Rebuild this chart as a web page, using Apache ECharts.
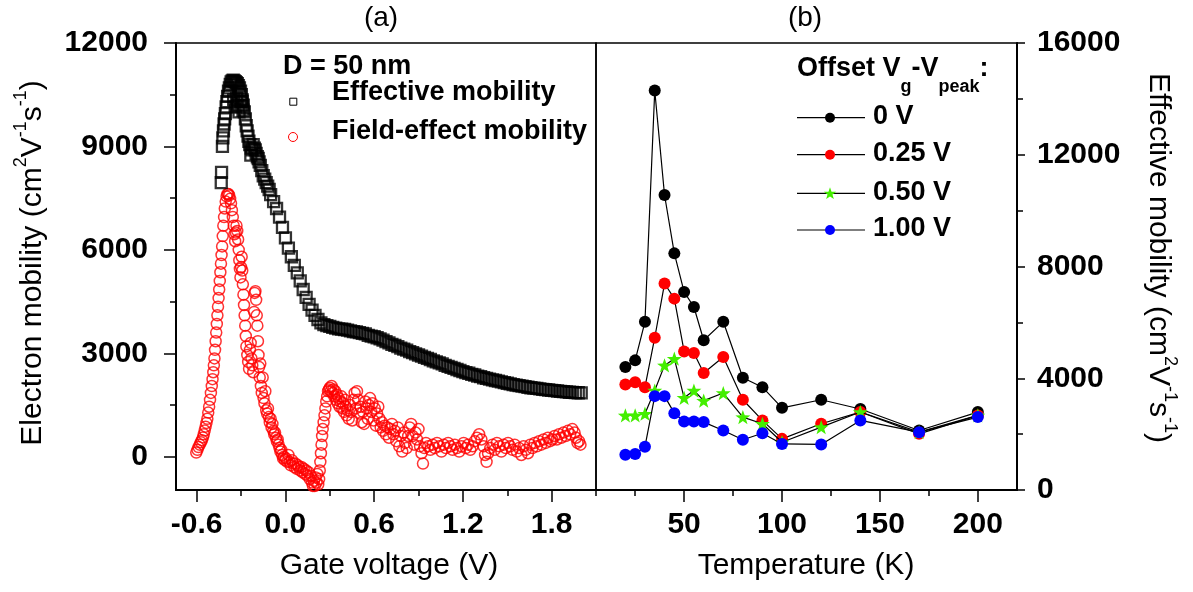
<!DOCTYPE html>
<html><head><meta charset="utf-8">
<script src="https://cdn.jsdelivr.net/npm/echarts@6/dist/echarts.min.js"></script>
<style>html,body{margin:0;padding:0;background:#fff}#c{width:1193px;height:592px}</style>
</head><body><div id="c"></div>
<script>
// ---------- Panel (a): gate-voltage dependence ----------
const effVg = [-0.434,-0.432,-0.426,-0.423,-0.419,-0.415,-0.411,-0.406,-0.401,-0.396,-0.391,-0.385,-0.379,-0.373,-0.367,-0.360,-0.353,-0.346,-0.339,-0.332,-0.325,-0.318,-0.311,-0.304,-0.298,
 -0.350,-0.340,-0.330,-0.322,-0.314,-0.306,-0.300,-0.293,-0.287,
 -0.292,-0.285,-0.278,-0.271,-0.265,-0.259,-0.253,-0.247,-0.241,-0.234,-0.231,-0.225,-0.218,-0.210,-0.204,-0.198,-0.190,-0.184,-0.178,-0.170,-0.160,-0.150,-0.140,-0.130,-0.120,-0.110,
 -0.10,-0.08,-0.06,-0.04,-0.02,0.00,0.02,0.04,0.06,0.08,0.10,0.12,0.14,0.16,0.18,0.20,0.22,0.24,0.26,0.28,0.30,0.32,0.34,0.36,0.38,0.40,0.42,0.44,0.46,0.48,0.50,0.52,0.54,0.56,0.58,0.60,0.62,0.64,0.66,0.68,0.70,0.72,0.74,0.76,0.78,0.80,0.82,0.84,0.86,0.88,0.90,0.92,0.94,0.96,0.98,1.00,1.02,1.04,1.06,1.08,1.10,1.12,1.14,1.16,1.18,1.20,1.22,1.24,1.26,1.28,1.30,1.32,1.34,1.36,1.38,1.40,1.42,1.44,1.46,1.48,1.50,1.52,1.54,1.56,1.58,1.60,1.62,1.64,1.66,1.68,1.70,1.72,1.74,1.76,1.78,1.80,1.82,1.84,1.86,1.88,1.90,1.92,1.94,1.96,1.98,2.00];
const effMob = [7950,8250,9000,9250,9450,9650,9800,9950,10150,10300,10450,10600,10700,10800,10870,10900,10920,10900,10880,10850,10820,10760,10700,10600,10500,
 10350,10150,10400,10200,10000,10300,10150,10300,10050,
 10350,10200,10000,9800,9600,9450,9300,9150,9050,8750,8950,8900,9050,8950,8900,8800,8700,8650,8550,8450,8300,8150,8050,7950,7850,7750,
 7600,7400,7200,6950,6650,6350,6050,5800,5550,5330,5100,4850,4620,4420,4250,4100,3980,3880,3830,3800,3780,3750,3730,3710,3700,3690,3670,3650,3630,3620,3600,3580,3560,3520,3500,3480,3450,3420,3380,3340,3300,3260,3230,3190,3150,3120,3090,3050,3020,2980,2950,2920,2880,2850,2820,2780,2750,2720,2690,2650,2620,2590,2560,2530,2500,2470,2440,2420,2390,2370,2340,2320,2290,2270,2250,2230,2210,2190,2170,2150,2130,2110,2090,2075,2060,2045,2030,2015,2000,1990,1980,1970,1955,1945,1935,1925,1915,1905,1895,1885,1880,1870,1865,1860,1855,1850];

const feVg = [-0.603,-0.595,-0.588,-0.580,-0.572,-0.565,-0.558,-0.552,-0.546,-0.540,-0.534,-0.528,-0.522,-0.516,-0.510,-0.504,-0.498,-0.493,-0.488,-0.484,-0.480,-0.476,-0.472,-0.468,-0.464,-0.460,-0.456,-0.452,-0.448,-0.444,-0.440,-0.436,-0.432,-0.428,-0.424,-0.420,-0.415,-0.410,-0.404,-0.398,-0.392,-0.386,-0.380,-0.374,-0.368,-0.362,-0.356,-0.350,-0.345,-0.340,-0.336,-0.331,-0.326,-0.320,-0.316,-0.312,-0.308,-0.304,-0.300,-0.296,-0.292,-0.288,-0.284,-0.280,-0.276,-0.272,-0.268,-0.264,-0.258,-0.252,-0.246,-0.240,-0.235,-0.230,-0.224,-0.218,-0.212,-0.208,-0.203,-0.198,-0.194,-0.190,-0.186,-0.182,-0.178,-0.174,-0.170,-0.166,-0.160,-0.154,-0.148,-0.142,-0.136,-0.130,-0.124,-0.118,-0.112,-0.106,-0.100,-0.094,-0.088,-0.082,-0.076,-0.070,-0.064,-0.058,-0.052,-0.046,-0.040,-0.034,-0.028,-0.022,-0.016,-0.010,-0.004,0.004,0.012,0.020,0.028,0.036,0.044,0.052,0.060,0.068,0.076,0.084,0.092,0.100,0.108,0.116,0.124,0.132,0.140,0.148,0.156,0.164,0.172,0.180,0.186,0.192,0.198,0.204,0.210,0.216,0.222,0.228,0.232,0.236,0.240,0.244,0.248,0.252,0.258,0.264,0.270,0.276,0.282,0.288,0.294,0.300,0.306,0.312,0.318,0.324,0.330,0.336,0.342,0.348,0.354,0.360,0.366,0.372,0.378,0.384,0.390,0.396,0.402,0.408,0.414,0.420,0.428,0.436,0.444,0.452,0.460,0.468,0.476,0.484,0.492,0.500,0.508,0.516,0.524,0.532,0.540,0.548,0.556,0.564,0.572,0.580,0.588,0.596,0.604,0.612,0.620,0.628,0.636,0.644,0.652,0.660,0.670,0.680,0.690,0.700,0.710,0.720,0.730,0.740,0.750,0.760,0.770,0.780,0.790,0.800,0.810,0.820,0.830,0.840,0.850,0.860,0.870,0.880,0.890,0.900,0.910,0.920,0.930,0.940,0.950,0.965,0.980,0.995,1.010,1.025,1.040,1.055,1.070,1.085,1.100,1.115,1.130,1.145,1.160,1.175,1.190,1.205,1.220,1.235,1.250,1.265,1.280,1.295,1.310,1.325,1.340,1.350,1.360,1.370,1.385,1.400,1.415,1.430,1.445,1.460,1.475,1.490,1.505,1.520,1.535,1.550,1.565,1.580,1.595,1.610,1.625,1.640,1.655,1.670,1.685,1.700,1.715,1.730,1.745,1.760,1.775,1.790,1.805,1.820,1.835,1.850,1.865,1.880,1.895,1.910,1.925,1.940,1.955,1.965,1.975,1.985,1.995];
const feMob = [120,200,280,350,420,480,560,650,760,870,980,1100,1280,1450,1650,1850,2050,2250,2450,2650,2850,3100,3350,3600,3850,4100,4350,4600,4850,5100,5350,5600,5850,6100,6400,6700,6950,7200,7400,7550,7620,7620,7580,7480,7350,7150,6950,6700,6450,6250,6500,6700,6550,6300,6000,5700,5450,5200,5500,5800,5400,5000,4700,4400,4100,3800,3500,3200,2950,2750,2550,3100,3300,2850,2650,2450,4200,4750,4800,4550,4100,3800,3350,2950,2600,2300,2700,2050,1850,2300,1700,1550,1900,1350,1250,1400,1150,1000,1100,850,950,750,650,700,550,450,500,350,250,150,200,50,-50,0,-100,-50,-150,50,-150,-250,-100,-200,-300,-200,-350,-250,-300,-400,-300,-450,-350,-500,-400,-550,-450,-650,-550,-750,-850,-700,-850,-600,-750,-500,-800,-650,-400,-150,100,350,600,800,1000,1200,1400,1600,1750,1900,1950,2000,1900,2050,1850,1950,1750,1900,1650,1800,1550,1700,1450,1600,1750,1400,1550,1300,1650,1450,1200,1350,1100,1500,1300,1050,1650,1850,1400,1900,1650,1250,1450,1000,1300,950,1600,1400,1100,1500,1700,1300,1550,1050,1400,900,1250,1450,1100,850,1000,750,900,650,850,550,800,950,650,750,450,850,300,600,150,700,400,250,600,850,950,600,350,700,500,800,300,100,-200,250,400,300,200,350,250,400,300,150,350,250,400,300,200,350,250,150,300,400,250,350,200,300,450,550,650,500,300,50,-150,100,250,350,200,400,300,150,350,250,400,300,200,350,150,250,50,300,200,100,350,250,400,300,450,350,500,400,550,450,500,600,500,650,550,700,600,750,650,800,700,550,400,450,350];

const aXMajor = [-0.6, 0.0, 0.6, 1.2, 1.8];
const aXMinor = [-0.3, 0.3, 0.9, 1.5, 2.1];
const aYMajor = [0, 3000, 6000, 9000, 12000];
const aYMinor = [1500, 4500, 7500, 10500];

// ---------- Panel (b): temperature dependence ----------
const temps  = [20, 25, 30, 35, 40, 45, 50, 55, 60, 70, 80, 90, 100, 120, 140, 170, 200];
const mob0   = [4400, 4640, 6020, 14300, 10560, 8470, 7090, 6550, 5360, 6020, 4020, 3680, 2940, 3230, 2900, 2130, 2790];
const mob025 = [3780, 3860, 3680, 5450, 7390, 6850, 4960, 4900, 4190, 4760, 3230, 2490, 1830, 2370, 2790, 2010, 2670];
const mob050 = [2670, 2670, 2730, 3560, 4460, 4700, 3300, 3560, 3200, 3470, 2610, 2370, 1710, 2250, 2790, 2070, 2670];
const mob100 = [1260, 1290, 1550, 3360, 3360, 2750, 2450, 2450, 2430, 2130, 1800, 2030, 1650, 1630, 2490, 2070, 2610];
const offsetNames = ['0 V', '0.25 V', '0.50 V', '1.00 V'];
const offsetColors = ['#000000', '#ff0000', '#44ee00', '#0000ff'];

const bXMajor = [50, 100, 150, 200];
const bXMinor = [25, 75, 125, 175];
const bYMajor = [0, 4000, 8000, 12000, 16000];
const bYMinor = [2000, 6000, 10000, 14000];

// ---------- build ----------
const FONT = '"Liberation Sans", Arial, Helvetica, sans-serif';
const STAR = 'path://M50,0 L61.8,33.8 L97.6,34.5 L69,56.2 L79.4,90.5 L50,70 L20.6,90.5 L31,56.2 L2.4,34.5 L38.2,33.8 Z';
const zip = (xs, ys) => xs.map((x, i) => [x, ys[i]]);

const tickLine = {color: '#000', width: 1.5};
const lbl = {fontSize: 30, fontWeight: 'bold', color: '#000', fontFamily: FONT};
const plain = v => String(v);

function xAxes(grid, min, max, major, minor, fmt) {
  return [
    {gridIndex: grid, type: 'value', min, max, position: 'bottom',
     axisLine: {show: true, onZero: false, lineStyle: {color: '#000', width: 2}},
     axisTick: {show: true, customValues: major, length: 12, lineStyle: tickLine},
     axisLabel: Object.assign({customValues: major, margin: 20, lineHeight: 30, formatter: fmt}, lbl),
     splitLine: {show: false}},
    {gridIndex: grid, type: 'value', min, max, position: 'bottom',
     axisLine: {show: false, onZero: false},
     axisTick: {show: true, customValues: minor, length: 6, lineStyle: tickLine},
     axisLabel: {show: false}, splitLine: {show: false}}
  ];
}
function yAxes(grid, min, max, major, minor, pos, majLen, margin, pad) {
  return [
    {gridIndex: grid, type: 'value', min, max, position: pos,
     axisLine: {show: true, onZero: false, lineStyle: {color: '#000', width: 2}},
     axisTick: {show: true, customValues: major, length: majLen, lineStyle: tickLine},
     axisLabel: Object.assign({customValues: major, margin, padding: pad, formatter: plain}, lbl),
     splitLine: {show: false}},
    {gridIndex: grid, type: 'value', min, max, position: pos,
     axisLine: {show: false, onZero: false},
     axisTick: {show: true, customValues: minor, length: 6, lineStyle: tickLine},
     axisLabel: {show: false}, splitLine: {show: false}}
  ];
}

const supRich = {
  m: {fontSize: 30, fontFamily: FONT, fill: '#000', color: '#000', lineHeight: 36, verticalAlign: 'bottom'},
  s: {fontSize: 18, fontFamily: FONT, fill: '#000', color: '#000', lineHeight: 16, verticalAlign: 'top'}
};
const unitText = '{m|(cm}{s|2}{m|V}{s|-1}{m|s}{s|-1}{m|)}';

function txt(x, y, text, size, bold, align) {
  return {type: 'text', x, y, silent: true, z: 100,
    style: {text, fill: '#000', fontSize: size, fontWeight: bold ? 'bold' : 'normal', fontFamily: FONT,
            align: align || 'left', verticalAlign: 'middle'}};
}
function starPts(cx, cy, R) {
  const p = [];
  for (let k = 0; k < 10; k++) {
    const r = k % 2 ? R * 0.4 : R, a = -Math.PI / 2 + k * Math.PI / 5;
    p.push([cx + r * Math.cos(a), cy + r * Math.sin(a)]);
  }
  return p;
}

const graphics = [
  txt(381, 18, '(a)', 28, false, 'center'),
  txt(805, 18, '(b)', 28, false, 'center'),
  txt(389, 566, 'Gate voltage (V)', 30, false, 'center'),
  txt(806, 566, 'Temperature (K)', 30, false, 'center'),
  {type: 'text', x: 30, y: 263, rotation: Math.PI / 2, silent: true, z: 100,
   style: {text: '{m|Electron mobility }' + unitText, rich: supRich, align: 'center', verticalAlign: 'middle'}},
  {type: 'text', x: 1161, y: 258, rotation: -Math.PI / 2, silent: true, z: 100,
   style: {text: '{m|Effective mobility }' + unitText, rich: supRich, align: 'center', verticalAlign: 'middle'}},
  // legend (a)
  txt(283, 67, 'D = 50 nm', 27, true),
  {type: 'rect', silent: true, z: 100, shape: {x: 289.8, y: 98.2, width: 7, height: 7},
   style: {fill: 'none', stroke: '#000', lineWidth: 1}},
  txt(332, 93, 'Effective mobility', 27, true),
  {type: 'circle', silent: true, z: 100, shape: {cx: 293, cy: 137, r: 4.5},
   style: {fill: 'none', stroke: '#ff0000', lineWidth: 1}},
  txt(332, 132, 'Field-effect mobility', 27, true),
  // legend (b) title
  {type: 'text', x: 797, y: 55, silent: true, z: 100,
   style: {text: '{m|Offset V}{s|g}{m|-V}{s|peak}{m|:}{z| }', align: 'left', verticalAlign: 'top',
     rich: {m: {fontSize: 27, fontWeight: 'bold', fontFamily: FONT, fill: '#000', lineHeight: 30, verticalAlign: 'top'},
            s: {fontSize: 18, fontWeight: 'bold', fontFamily: FONT, fill: '#000', lineHeight: 18, verticalAlign: 'bottom'},
            z: {fontSize: 1, lineHeight: 41, fill: '#000'}}}}
];
const legYs = [117.7, 154.7, 193.3, 230];
offsetNames.forEach((name, i) => {
  const y = legYs[i];
  graphics.push({type: 'line', silent: true, z: 100, shape: {x1: 797, y1: y, x2: 865, y2: y},
                 style: {stroke: '#000', lineWidth: 1.2}});
  if (i === 2) {
    graphics.push({type: 'polygon', silent: true, z: 101, shape: {points: starPts(830, y + 0.5, 6.5)},
                   style: {fill: offsetColors[i]}});
  } else {
    graphics.push({type: 'circle', silent: true, z: 101, shape: {cx: 830, cy: y, r: 5},
                   style: {fill: offsetColors[i]}});
  }
  graphics.push(txt(873, y - 1, name, 27, true));
});

const seriesB = [mob0, mob025, mob050, mob100].map((vals, i) => ({
  type: 'line', name: offsetNames[i], xAxisIndex: 2, yAxisIndex: 2,
  data: zip(temps, vals),
  symbol: i === 2 ? STAR : 'circle', symbolKeepAspect: true,
  symbolSize: i === 2 ? 15 : 12, showAllSymbol: true,
  lineStyle: {color: '#000', width: 1.2},
  itemStyle: {color: offsetColors[i], borderWidth: 0},
  emphasis: {disabled: true}, silent: true, z: 3 + i
}));

const option = {
  animation: false,
  backgroundColor: '#fff',
  grid: [
    {left: 176, top: 43, width: 420, height: 447, show: true, borderColor: '#000', borderWidth: 1.5,
     backgroundColor: 'transparent', containLabel: false, outerBoundsMode: 'none'},
    {left: 596, top: 43, width: 421, height: 447, show: true, borderColor: '#000', borderWidth: 1.5,
     backgroundColor: 'transparent', containLabel: false, outerBoundsMode: 'none'}
  ],
  xAxis: [].concat(
    xAxes(0, -0.74, 2.1, aXMajor, aXMinor, v => v.toFixed(1)),
    xAxes(1, 5, 220, bXMajor, bXMinor, plain)
  ),
  yAxis: [].concat(
    yAxes(0, -966, 12000, aYMajor, aYMinor, 'left', 12, 28, [0, 0, 0, 0]),
    yAxes(1, 0, 16000, bYMajor, bYMinor, 'right', 8, 20, [0, 0, 10, 0])
  ),
  series: [
    {type: 'scatter', name: 'Field-effect mobility', xAxisIndex: 0, yAxisIndex: 0,
     data: zip(feVg, feMob), symbol: 'circle', symbolSize: 11,
     itemStyle: {color: 'rgba(0,0,0,0)', borderColor: '#ff0000', borderWidth: 1.5},
     emphasis: {disabled: true}, silent: true},
    {type: 'scatter', name: 'Effective mobility', xAxisIndex: 0, yAxisIndex: 0,
     data: zip(effVg, effMob), symbol: 'rect', symbolSize: 11,
     itemStyle: {color: 'rgba(0,0,0,0)', borderColor: '#000', borderWidth: 2.3},
     emphasis: {disabled: true}, silent: true}
  ].concat(seriesB),
  graphic: graphics
};

const chart = echarts.init(document.getElementById('c'), null, {renderer: 'canvas'});
chart.setOption(option);
</script></body></html>
